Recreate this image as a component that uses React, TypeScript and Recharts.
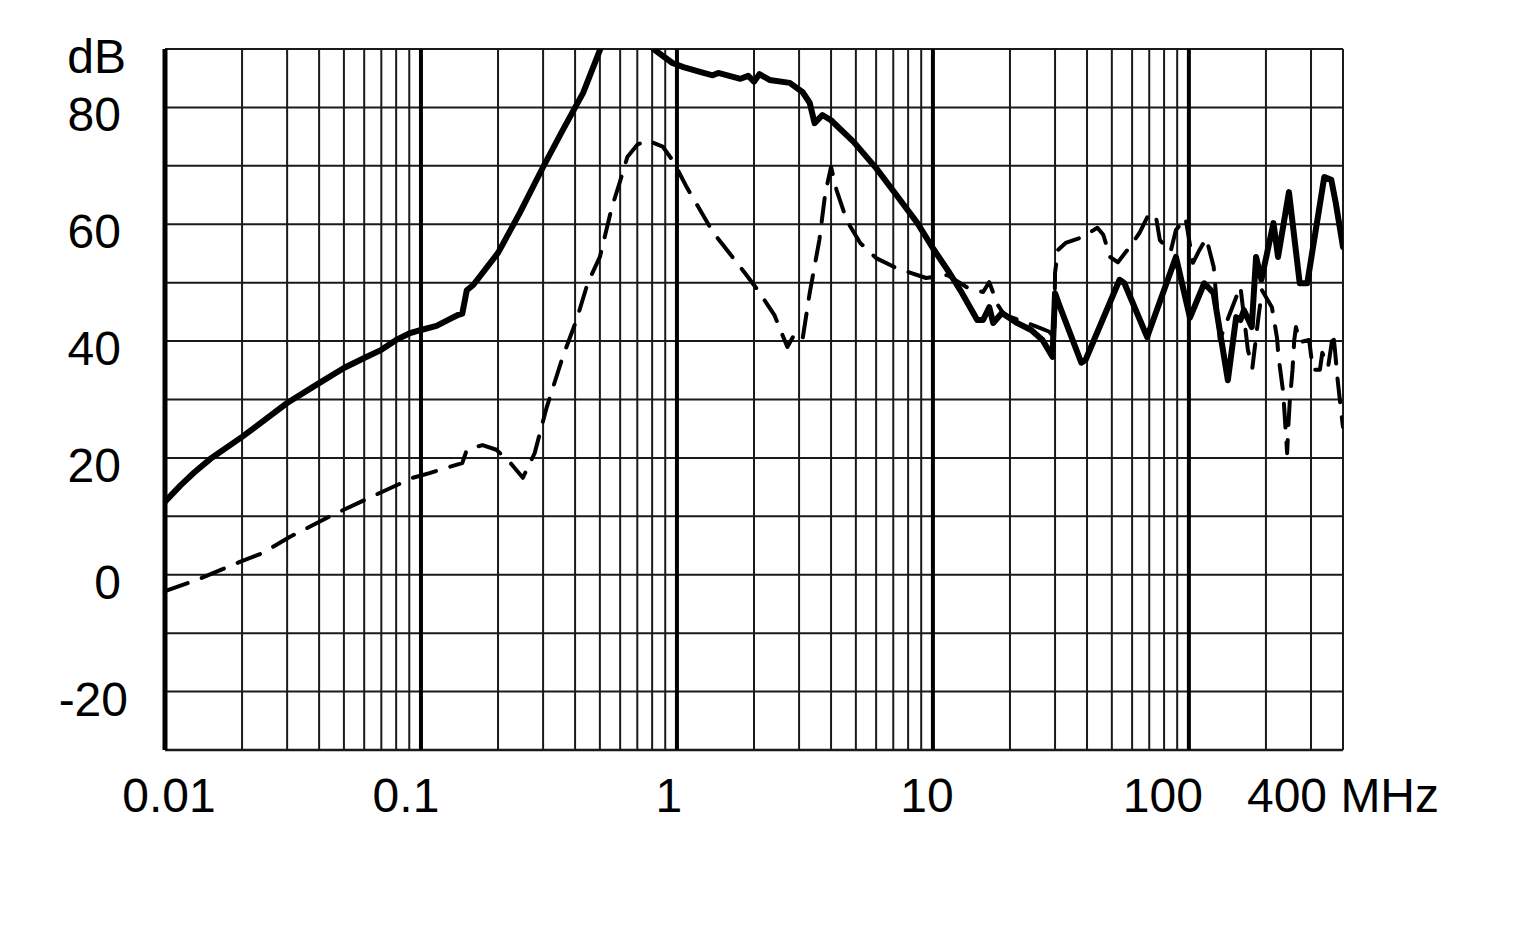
import React from 'react';
import { LineChart, Line, XAxis, YAxis, ReferenceLine } from 'recharts';

// Solid curve (frequency in MHz, attenuation in dB)
const solidFreq = [
  0.01, 0.0115, 0.013, 0.015, 0.02, 0.03, 0.04, 0.05, 0.06, 0.07, 0.08, 0.09, 0.1, 0.115, 0.13, 0.14, 0.145,
  0.151, 0.16, 0.2, 0.243, 0.3, 0.358, 0.43, 0.5, 0.55, 0.65, 0.75, 0.81, 0.96, 1.06, 1.23, 1.38,
  1.45, 1.77, 1.9, 2.0, 2.1, 2.3, 2.76, 3.1, 3.3, 3.45, 3.7, 4.0, 4.9, 6.0, 7.2, 8.7, 10, 11.6, 13,
  14.9, 15.7, 16.6, 17.2, 18.6, 21.3, 24.2, 26.8, 29.3, 30, 31.4, 38, 39.5, 53.6, 56, 68.7, 89, 101,
  114.8, 125, 142, 153, 159, 164, 176, 183, 192, 214, 223, 246, 271, 290, 338, 360, 375, 400,
];
const solidDb = [
  12.5, 15.3, 17.5, 19.8, 23.6, 29.4, 32.8, 35.4, 37.1, 38.5, 40.2, 41.3, 41.9, 42.6, 43.8, 44.5, 44.7,
  48.7, 49.6, 55.1, 61.9, 69.8, 76.1, 82.5, 89.8, 94, 97, 93, 90, 87.6, 86.9, 86.1, 85.5,
  85.9, 84.9, 85.4, 84.4, 85.7, 84.7, 84.2, 82.6, 80.8, 77.3, 78.7, 77.8, 74.1, 69.6, 65.0, 60.2, 55.9, 51.7, 48.2,
  43.6, 43.6, 45.8, 43.1, 44.8, 43.1, 41.9, 40.2, 37.3, 48.2, 45.8, 36.3, 36.8, 50.5, 49.9, 40.7, 54.4, 44,
  49.9, 48.2, 33.3, 44.1, 43.6, 45.3, 42.4, 54.4, 50.5, 60.2, 54.4, 65.5, 49.9, 49.9, 68.1, 67.6, 63.6, 56.1,
];

// Dashed curve
const dashFreq = [
  0.01, 0.0133, 0.0196, 0.024, 0.0308, 0.045, 0.069, 0.093, 0.108, 0.13, 0.145, 0.151, 0.174, 0.197,
  0.222, 0.25, 0.278, 0.31, 0.358, 0.405, 0.448, 0.5, 0.556, 0.597, 0.64, 0.7, 0.76, 0.88, 0.97, 1.09,
  1.38, 1.84, 2.04, 2.4, 2.7, 2.9, 3.1, 3.3, 3.6, 3.8, 4.0, 4.2, 4.6, 5.2, 6.0, 7.2, 9.4, 11.4, 13.7,
  15.7, 16.6, 17.9, 19, 22, 26, 28.5, 29.8, 30, 30.8, 33, 38.3, 43.9, 46.3, 49.2, 52.8, 58.2, 64.1, 70,
  74.5, 77, 84.8, 89, 97, 103.7, 110, 117, 125, 132, 153, 159, 170, 177, 183, 187, 193, 211, 221, 224,
  233, 236, 242, 245, 248, 254, 258, 262, 271, 295, 305, 325, 332, 350, 366, 372, 380, 390, 400,
];
const dashDb = [
  -2.8, -0.9, 2.2, 3.7, 6.5, 10.2, 14.0, 16.6, 17.4, 18.5, 19.1, 21.4, 22.2, 21.4,
  19.3, 16.6, 20.8, 28.7, 37.3, 43.6, 49.9, 54.4, 62.8, 67.1, 71.5, 73.6, 74.4, 73.3, 70.7, 66.4,
  58.7, 51.7, 49.1, 44.5, 39.0, 41.4, 40.5, 48.2, 57.3, 65.4, 69.8, 65.9, 60.7, 56.8, 54.2, 52.5, 50.8, 51.3, 49.1,
  48.4, 50.1, 46.2, 44.5, 43.5, 42.3, 41.6, 40.5, 51.7, 55.6, 56.8, 57.8, 59.4, 58.2, 54.4, 53.5, 55.9, 58.5, 61.9,
  61.1, 57.3, 55.3, 59.0, 61.1, 53.4, 55.6, 57.6, 52.7, 40.2, 47.5, 49.3, 38.5, 35.4, 40.7, 44.1, 48.7, 45.8, 40.5, 37.3,
  31.6, 28.2, 20.8, 26, 29.9, 35.1, 40.2, 42.4, 39.8, 40.2, 35.1, 35.1, 38.0, 35.6, 41.4, 38.5, 33.9, 29.4, 25.3,
];

const xTicks = [0.01, 0.1, 1, 10, 100, 400];
const xTickLabels = ['0.01', '0.1', '1', '10', '100', '400 MHz'];
const yTicks = [90, 80, 60, 40, 20, 0, -20];
const yTickLabels = ['dB', '80', '60', '40', '20', '0', '-20'];

const minorX = [
  0.02, 0.03, 0.04, 0.05, 0.06, 0.07, 0.08, 0.09,
  0.2, 0.3, 0.4, 0.5, 0.6, 0.7, 0.8, 0.9,
  2, 3, 4, 5, 6, 7, 8, 9,
  20, 30, 40, 50, 60, 70, 80, 90,
  200, 300, 400,
];
const majorX = [0.1, 1, 10, 100];
const gridY = [-30, -20, -10, 0, 10, 20, 30, 40, 50, 60, 70, 80, 90];

const solidData = solidFreq.map((f, i) => ({ f, v: solidDb[i] }));
const dashData = dashFreq.map((f, i) => ({ f, v: dashDb[i] }));

const FONT = '"Liberation Sans", Arial, sans-serif';
const xLabelShift: Record<string, number> = { '0.01': 4, '0.1': -15, '1': -8, '10': -6, '100': -26, '400 MHz': 0 };
const yLabelShift: Record<string, number> = { '-20': 7, 'dB': 5 };

const XTick = (props: any) => {
  const { x, y, payload } = props;
  const idx = xTicks.indexOf(payload.value);
  const label = idx >= 0 ? xTickLabels[idx] : String(payload.value);
  return (
    <text x={x + (xLabelShift[label] || 0)} y={y} dy={62} textAnchor="middle" fontSize={48} fontFamily={FONT} fill="#000">
      {label}
    </text>
  );
};

const YTick = (props: any) => {
  const { x, y, payload } = props;
  const idx = yTicks.indexOf(payload.value);
  const label = idx >= 0 ? yTickLabels[idx] : String(payload.value);
  return (
    <text x={x - 44 + (yLabelShift[label] || 0)} y={y} dy={24} textAnchor="end" fontSize={48} fontFamily={FONT} fill="#000">
      {label}
    </text>
  );
};

export default function App() {
  return (
    <div style={{ width: 1500, height: 900 }}>
      <LineChart width={1500} height={900} margin={{ top: 41, right: 165, bottom: 98, left: 57 }}>
        <XAxis
          dataKey="f"
          type="number"
          scale="log"
          domain={[0.01, 400]}
          ticks={xTicks}
          allowDataOverflow
          axisLine={false}
          tickLine={false}
          tickSize={0}
          tickMargin={0}
          height={60}
          tick={<XTick />}
          interval={0}
        />
        <YAxis
          type="number"
          domain={[-30, 90]}
          ticks={yTicks}
          allowDataOverflow
          axisLine={false}
          tickLine={false}
          tickSize={0}
          tickMargin={0}
          width={100}
          tick={<YTick />}
          interval={0}
        />
        {gridY.map((v) => (
          <ReferenceLine key={'h' + v} y={v} stroke="#1a1a1a" strokeWidth={v === -30 ? 2.5 : 2} />
        ))}
        {minorX.map((v) => (
          <ReferenceLine key={'m' + v} x={v} stroke="#1a1a1a" strokeWidth={2} />
        ))}
        {majorX.map((v) => (
          <ReferenceLine key={'M' + v} x={v} stroke="#000" strokeWidth={4} />
        ))}
        <ReferenceLine x={0.01} stroke="#000" strokeWidth={5} />
        <Line
          data={dashData}
          dataKey="v"
          type="linear"
          stroke="#000"
          strokeWidth={4}
          strokeDasharray="24 15"
          strokeLinecap="round"
          strokeLinejoin="round"
          dot={false}
          activeDot={false}
          isAnimationActive={false}
        />
        <Line
          data={solidData}
          dataKey="v"
          type="linear"
          stroke="#000"
          strokeWidth={6}
          strokeLinejoin="round"
          strokeLinecap="round"
          dot={false}
          activeDot={false}
          isAnimationActive={false}
        />
      </LineChart>
    </div>
  );
}
